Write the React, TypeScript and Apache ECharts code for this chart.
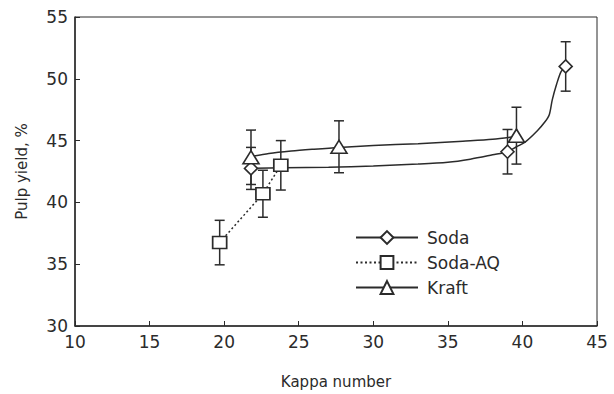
import React, { useEffect, useRef } from "react";
import * as echarts from "echarts";

// Measured points (Kappa number, pulp yield %, error)
const sodaX = [21.8, 39.0, 42.9];
const sodaY = [42.75, 44.1, 51.0];
const sodaErr = [1.7, 1.8, 2.0];

const aqX = [19.7, 22.6, 23.8];
const aqY = [36.75, 40.7, 43.0];
const aqErr = [1.8, 1.9, 2.0];

const kraftX = [21.8, 27.7, 39.6];
const kraftY = [43.65, 44.5, 45.4];
const kraftErr = [2.2, 2.1, 2.3];

// Fitted curves
const sodaCurveX = [21.8, 24, 27, 30, 33, 35, 36.5, 38.0, 39.0, 39.6, 40.2, 41.0, 41.5, 41.8, 42.0, 42.3, 42.6, 42.9];
const sodaCurveY = [42.75, 42.8, 42.85, 42.95, 43.1, 43.25, 43.5, 43.85, 44.1, 44.5, 44.9, 45.8, 46.5, 47.1, 48.3, 49.6, 50.6, 51.0];

const kraftCurveX = [21.8, 23, 24.5, 26, 27.7, 30, 33, 36, 38, 39.6];
const kraftCurveY = [43.7, 43.95, 44.15, 44.3, 44.45, 44.6, 44.75, 44.95, 45.1, 45.35];

const xTicks = [10, 15, 20, 25, 30, 35, 40, 45];
const yTicks = [30, 35, 40, 45, 50, 55];

const INK = "#2b2b2b";
const FONT = "DejaVu Sans";

const zip = (xs: number[], ys: number[]) => xs.map((x, i) => [x, ys[i]]);
const zip3 = (xs: number[], ys: number[], es: number[]) => xs.map((x, i) => [x, ys[i], es[i]]);

const errRender = (params: any, api: any) => {
  const x = api.value(0);
  const y = api.value(1);
  const e = api.value(2);
  const top = api.coord([x, y + e]);
  const bot = api.coord([x, y - e]);
  const hw = 5;
  const style = { stroke: INK, lineWidth: 1.5 };
  return {
    type: "group",
    children: [
      { type: "line", shape: { x1: top[0], y1: top[1], x2: bot[0], y2: bot[1] }, style },
      { type: "line", shape: { x1: top[0] - hw, y1: top[1], x2: top[0] + hw, y2: top[1] }, style },
      { type: "line", shape: { x1: bot[0] - hw, y1: bot[1], x2: bot[0] + hw, y2: bot[1] }, style },
    ],
  };
};

const markerStyle = { color: "#fff", borderColor: INK, borderWidth: 1.6, opacity: 1 };

export default function App() {
  const ref = useRef<HTMLDivElement>(null);
  useEffect(() => {
    if (!ref.current) return;
    const chart = echarts.init(ref.current, undefined, { renderer: "svg" });
    chart.setOption({
      animation: false,
      backgroundColor: "#fff",
      textStyle: { fontFamily: FONT },
      grid: {
        left: 75,
        right: 17,
        top: 17,
        bottom: 66,
        show: true,
        borderColor: INK,
        borderWidth: 1,
        backgroundColor: "transparent",
      },
      xAxis: {
        type: "value",
        min: xTicks[0],
        max: xTicks[xTicks.length - 1],
        interval: 5,
        name: "Kappa number",
        nameLocation: "middle",
        nameGap: 48,
        nameTextStyle: { fontSize: 15, color: INK, fontFamily: FONT },
        axisLine: { show: true, lineStyle: { color: INK, width: 1.5 } },
        axisTick: { show: true, inside: true, length: 5, lineStyle: { color: INK, width: 1 } },
        axisLabel: { fontSize: 17, color: INK, margin: 7, fontFamily: FONT },
        splitLine: { show: false },
      },
      yAxis: {
        type: "value",
        min: yTicks[0],
        max: yTicks[yTicks.length - 1],
        interval: 5,
        name: "Pulp yield, %",
        nameLocation: "middle",
        nameGap: 46,
        nameRotate: 90,
        nameTextStyle: { fontSize: 15, color: INK, fontFamily: FONT },
        axisLine: { show: true, lineStyle: { color: INK, width: 1.5 } },
        axisTick: { show: true, inside: true, length: 5, lineStyle: { color: INK, width: 1 } },
        axisLabel: { fontSize: 17, color: INK, margin: 7, fontFamily: FONT },
        splitLine: { show: false },
      },
      legend: {
        orient: "vertical",
        left: 355,
        top: 229,
        padding: 0,
        itemWidth: 62,
        itemHeight: 16,
        itemGap: 8,
        data: ["Soda", "Soda-AQ", "Kraft"],
        textStyle: { fontSize: 17, color: INK, fontFamily: FONT, padding: [0, 0, 0, 4] },
      },
      series: [
        {
          name: "Soda",
          type: "line",
          data: zip(sodaCurveX, sodaCurveY),
          smooth: 0.3,
          symbol: "diamond",
          showSymbol: false,
          lineStyle: { color: INK, width: 1.5, type: "solid" },
          itemStyle: markerStyle,
          z: 2,
        },
        {
          name: "Soda-AQ",
          type: "line",
          data: zip(aqX, aqY),
          symbol: "rect",
          showSymbol: false,
          lineStyle: { color: INK, width: 1.5, type: [2, 2.5] },
          itemStyle: markerStyle,
          z: 2,
        },
        {
          name: "Kraft",
          type: "line",
          data: zip(kraftCurveX, kraftCurveY),
          smooth: 0.3,
          symbol: "triangle",
          showSymbol: false,
          lineStyle: { color: INK, width: 1.5, type: "solid" },
          itemStyle: markerStyle,
          z: 2,
        },
        {
          type: "custom",
          renderItem: errRender,
          data: zip3(sodaX, sodaY, sodaErr),
          encode: { x: 0, y: 1 },
          z: 3,
        },
        {
          type: "custom",
          renderItem: errRender,
          data: zip3(aqX, aqY, aqErr),
          encode: { x: 0, y: 1 },
          z: 3,
        },
        {
          type: "custom",
          renderItem: errRender,
          data: zip3(kraftX, kraftY, kraftErr),
          encode: { x: 0, y: 1 },
          z: 3,
        },
        {
          type: "scatter",
          data: zip(sodaX, sodaY),
          symbol: "diamond",
          symbolSize: [13, 13],
          itemStyle: markerStyle,
          z: 5,
        },
        {
          type: "scatter",
          data: zip(aqX, aqY),
          symbol: "rect",
          symbolSize: [14, 12],
          itemStyle: markerStyle,
          z: 5,
        },
        {
          type: "scatter",
          data: zip(kraftX, kraftY),
          symbol: "triangle",
          symbolSize: [16, 13],
          itemStyle: markerStyle,
          z: 5,
        },
      ],
    });
    return () => chart.dispose();
  }, []);
  return (
    <div
      ref={ref}
      style={{ position: "fixed", left: 0, top: 0, width: 614, height: 394, background: "#fff" }}
    />
  );
}
